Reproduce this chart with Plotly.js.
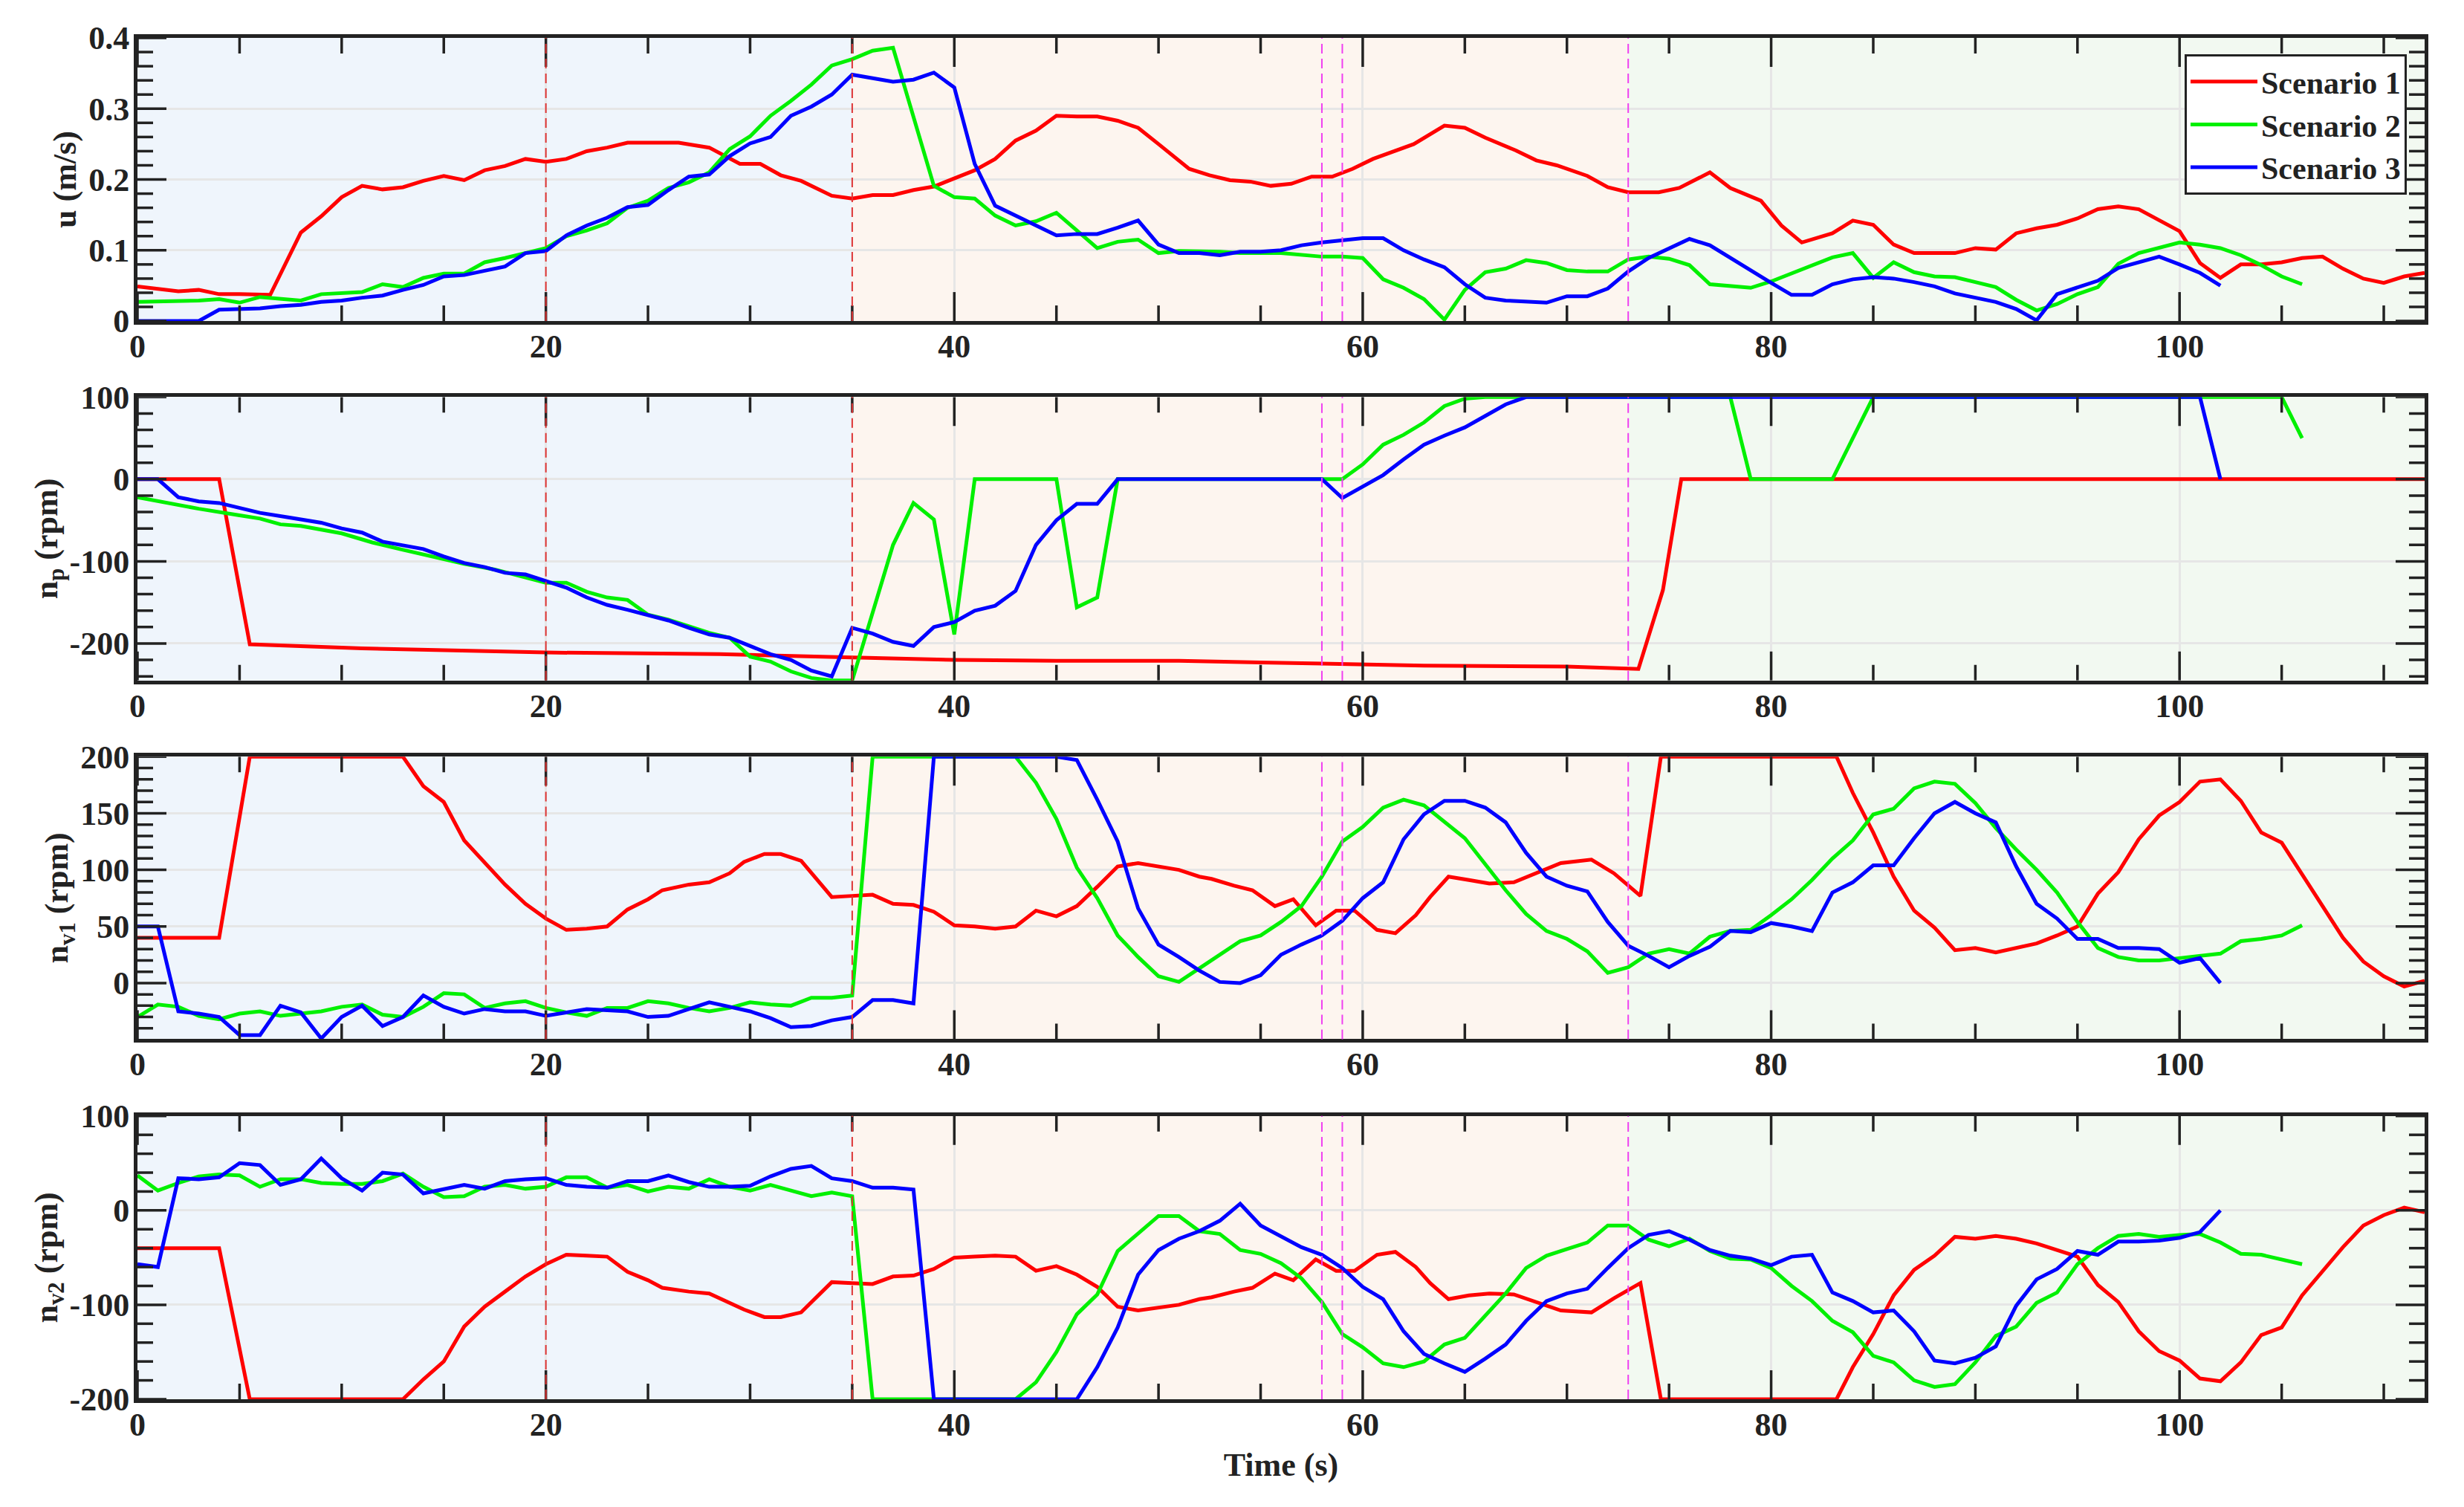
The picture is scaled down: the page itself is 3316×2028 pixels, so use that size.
<!DOCTYPE html>
<html>
<head>
<meta charset="utf-8">
<script src="https://cdn.plot.ly/plotly-3.0.1.min.js"></script>
<style>
  body { margin: 0; background: #fff; }
</style>
</head>
<body>
<div id="chart" style="width:3316px;height:2028px"></div>
<script>
const scenarios = ["Scenario 1", "Scenario 2", "Scenario 3"]

// phases: [start, end] in seconds
const phaseStarts = [0, 35, 73]
const phaseEnds = [35, 73, 112]
const redEvents = [20, 35]
const magentaEvents = [58, 59, 73]

const timeRange = [0, 112]
const timeTicks = [0, 20, 40, 60, 80, 100]
const timeMinorStep = 5

// surge speed u (m/s), [time, value]
const u_s1 = [[0,.049],[2,.042],[3,.044],[4,.038],[5,.038],[6.5,.037],[8,.125],[9,.148],[10,.175],[11,.191],[12,.186],[13,.189],[14,.198],[15,.205],[16,.199],[17,.213],[18,.219],[19,.229],[20,.225],[21,.229],[22,.240],[23,.245],[24,.252],[25,.252],[26.5,.252],[28,.245],[29.5,.222],[30.5,.222],[31.5,.206],[32.5,.198],[33.3,.187],[34,.177],[35,.173],[36,.178],[37,.178],[38,.185],[39,.190],[40,.202],[41,.213],[42,.229],[43,.255],[44,.269],[45,.290],[46,.289],[47,.289],[48,.283],[49,.273],[50,.250],[51.5,.215],[52.5,.206],[53.5,.199],[54.5,.197],[55.5,.191],[56.5,.194],[57.5,.204],[58.5,.204],[59.5,.215],[60.5,.229],[61.5,.239],[62.5,.250],[64,.276],[65,.273],[66,.259],[67.5,.241],[68.5,.227],[69.5,.220],[71,.205],[72,.189],[73,.182],[74.5,.182],[75.5,.188],[77,.210],[78,.188],[79.5,.170],[80.5,.135],[81.5,.111],[83,.124],[84,.142],[85,.136],[86,.108],[87,.096],[89,.096],[90,.103],[91,.101],[92,.124],[93,.131],[94,.136],[95,.145],[96,.158],[97,.162],[98,.158],[99,.142],[100,.127],[101,.082],[102,.061],[103,.080],[104,.080],[105,.083],[106,.089],[107,.091],[108,.074],[109,.060],[110,.054],[111,.063],[112,.068]]
const u_s2 = [[0,.027],[2,.028],[3,.029],[4,.031],[5,.026],[6,.034],[7,.032],[8,.029],[9,.038],[10,.039],[11,.041],[12,.052],[13,.048],[14,.061],[15,.067],[16,.067],[17,.083],[18,.089],[19,.096],[20,.103],[21,.120],[22,.128],[23,.138],[24,.160],[25,.170],[26,.188],[27,.196],[28,.210],[29,.243],[30,.261],[31,.290],[32,.311],[33,.334],[34,.361],[35,.370],[36,.382],[37,.386],[39,.191],[40,.175],[41,.173],[42,.149],[43,.135],[44,.141],[45,.153],[46,.128],[47,.103],[48,.112],[49,.115],[50,.096],[51,.099],[53,.098],[54,.096],[56,.096],[57,.093],[58,.091],[59,.091],[60,.089],[61,.059],[62,.047],[63,.031],[64,.002],[65,.044],[66,.069],[67,.074],[68,.086],[69,.082],[70,.072],[71,.070],[72,.070],[73,.087],[74,.091],[75,.088],[76,.079],[77,.052],[78,.049],[79,.047],[80,.056],[81,.067],[82,.079],[83,.090],[84,.096],[85,.061],[86,.083],[87,.069],[88,.063],[89,.062],[90,.055],[91,.048],[92,.030],[93,.015],[94,.024],[95,.038],[96,.048],[97,.081],[98,.096],[99,.104],[100,.111],[101,.108],[102,.103],[103,.093],[104,.079],[105,.063],[106,.052]]
const u_s3 = [[0,0],[3,0],[4,.016],[5,.017],[6,.018],[7,.021],[8,.023],[9,.027],[10,.029],[11,.033],[12,.036],[13,.044],[14,.051],[15,.063],[16,.065],[17,.071],[18,.077],[19,.096],[20,.099],[21,.121],[22,.135],[23,.146],[24,.161],[25,.164],[26,.185],[27,.204],[28,.207],[29,.233],[30,.251],[31,.260],[32,.290],[33,.303],[34,.320],[35,.348],[36,.343],[37,.338],[38,.341],[39,.351],[40,.330],[41,.222],[42,.163],[43,.149],[44,.136],[45,.121],[46,.123],[47,.123],[48,.132],[49,.142],[50,.108],[51,.096],[52,.096],[53,.093],[54,.098],[55,.098],[56,.100],[57,.107],[58,.111],[59,.114],[60,.117],[61,.117],[62,.100],[63,.087],[64,.076],[65,.052],[66,.033],[67,.029],[68,.027],[69,.026],[70,.035],[71,.035],[72,.046],[73,.070],[74,.089],[75,.103],[76,.116],[77,.107],[78,.089],[79,.072],[80,.054],[81,.037],[82,.037],[83,.052],[84,.059],[85,.062],[86,.060],[87,.055],[88,.049],[89,.039],[90,.033],[91,.027],[92,.017],[93,.001],[94,.038],[95,.047],[96,.057],[97,.075],[98,.083],[99,.091],[100,.080],[101,.068],[102,.050]]

// propeller speed n_p (rpm)
const np_s1 = [[0,0],[4,0],[5.5,-201],[11,-206],[20,-211],[28.5,-213],[35,-217],[40,-220],[45,-221],[51,-221],[55,-223],[60,-225],[63,-227],[70,-228],[73.5,-231],[74.7,-135],[75.6,0],[112,0]]
const np_s2 = [[0,-22],[2,-32],[3,-36],[5,-44],[6,-48],[7,-55],[8,-57],[10,-66],[11.5,-77],[13,-86],[14.5,-95],[16,-103],[17.5,-110],[19,-119],[20,-126],[21,-126],[22,-137],[23,-144],[24,-147],[25,-165],[26,-171],[28,-187],[29,-193],[30,-216],[31,-222],[32,-234],[33,-242],[34,-245],[35,-245],[37,-80],[38,-29],[39,-49],[40,-189],[41,0],[45,0],[46,-156],[47,-144],[48,0],[59,0],[60,18],[61,42],[62,54],[63,69],[64,89],[65,98],[66,100],[78,100],[79,0],[83,0],[85,100],[105,100],[106,50]]
const np_s3 = [[0,0],[1,0],[2,-22],[3,-27],[4,-29],[5,-35],[6,-41],[7.5,-47],[9,-53],[10,-60],[11,-65],[12,-76],[14,-85],[15,-94],[16,-102],[17,-107],[18,-114],[19,-116],[20,-124],[21,-132],[22,-144],[23,-153],[24,-159],[25,-166],[26,-172],[27,-181],[28,-189],[29,-193],[30,-203],[31,-213],[32,-220],[33,-233],[34,-240],[35,-181],[36,-188],[37,-198],[38,-203],[39,-180],[40,-174],[41,-160],[42,-154],[43,-136],[44,-80],[45,-50],[46,-30],[47,-30],[48,0],[58,0],[59,-23],[61,5],[62,24],[63,42],[64,53],[65,63],[66,77],[67,91],[68,100],[101,100],[102,0]]

// thruster speed n_v1 (rpm)
const nv1_s1 = [[0,40],[4,40],[5.5,200],[13,200],[14,174],[15,160],[16,126],[17,107],[18,87],[19,70],[20,57],[21,47],[22,48],[23,50],[24,65],[25,74],[25.7,82],[27,87],[28,89],[29,97],[29.7,107],[30.7,114],[31.5,114],[32.5,108],[34,76],[35,77],[36,78],[37,70],[38,69],[39,63],[40,51],[41,50],[42,48],[43,50],[44,64],[45,59],[46,68],[47,85],[48,103],[49,106],[50,103],[51,100],[52,94],[52.6,92],[53.7,86],[54.6,82],[55.7,68],[56.6,74],[57.7,51],[58.7,64],[59.6,64],[60.7,47],[61.6,44],[62.6,60],[63.3,76],[64.2,94],[65.2,91],[66.2,88],[67.4,89],[68.6,98],[69.7,106],[71.2,109],[72.3,97],[73.6,77],[74.6,200],[83.2,200],[84,168],[85,133],[86,94],[87,64],[88,49],[89,29],[90,31],[91,27],[92,31],[93,35],[94,42],[95,50],[96,79],[97,98],[98,127],[99,148],[100,160],[101,178],[102,180],[103,161],[104,133],[105,124],[106,96],[107,68],[108,40],[109,19],[110,6],[111,-3],[112,2]]
const nv1_s2 = [[0,-30],[1,-19],[2,-21],[3,-29],[4,-32],[5,-27],[6,-25],[7,-29],[8,-27],[9,-25],[10,-21],[11,-19],[12,-28],[13,-30],[14,-21],[15,-9],[16,-10],[17,-22],[18,-18],[19,-16],[20,-22],[21,-26],[22,-29],[23,-22],[24,-22],[25,-16],[26,-18],[27,-22],[28,-25],[29,-22],[30,-17],[31,-19],[32,-20],[33,-13],[34,-13],[35,-11],[36,200],[43,200],[44,177],[45,145],[46,102],[47,75],[48,42],[49,23],[50,6],[51,1],[52,13],[53,25],[54,37],[55,42],[56,54],[57,68],[58,94],[59,125],[60,138],[61,155],[62,162],[63,157],[64,143],[65,128],[66,105],[67,82],[68,61],[69,46],[70,39],[71,28],[72,9],[73,14],[74,26],[75,30],[76,26],[77,41],[78,46],[79,47],[80,60],[81,74],[82,91],[83,110],[84,126],[85,149],[86,154],[87,172],[88,178],[89,176],[90,159],[91,137],[92,118],[93,100],[94,80],[95,54],[96,31],[97,23],[98,20],[99,20],[100,22],[101,24],[102,26],[103,37],[104,39],[105,42],[106,51]]
const nv1_s3 = [[0,50],[1,50],[2,-25],[3,-27],[4,-30],[5,-46],[6,-46],[7,-20],[8,-26],[9,-49],[10,-30],[11,-20],[12,-38],[13,-30],[14,-11],[15,-21],[16,-27],[17,-23],[18,-25],[19,-25],[20,-29],[21,-26],[22,-23],[23,-24],[24,-25],[25,-30],[26,-29],[27,-23],[28,-17],[29,-21],[30,-25],[31,-31],[32,-39],[33,-38],[34,-33],[35,-30],[36,-15],[37,-15],[38,-18],[39,200],[45,200],[46,197],[47,162],[48,125],[49,66],[50,34],[51,23],[52,11],[53,1],[54,0],[55,7],[56,25],[57,34],[58,42],[59,55],[60,75],[61,89],[62,127],[63,149],[64,161],[65,161],[66,155],[67,142],[68,115],[69,94],[70,86],[71,81],[72,54],[73,33],[74,24],[75,14],[76,24],[77,32],[78,46],[79,45],[80,53],[81,50],[82,46],[83,80],[84,89],[85,104],[86,104],[87,128],[88,150],[89,160],[90,150],[91,142],[92,103],[93,70],[94,57],[95,39],[96,39],[97,31],[98,31],[99,30],[100,18],[101,22],[102,0]]

// thruster speed n_v2 (rpm)
const nv2_s1 = [[0,-40],[4,-40],[5.5,-200],[13,-200],[14,-179],[15,-160],[16,-123],[17,-102],[18,-86],[19,-70],[20,-57],[21,-47],[22,-48],[23,-49],[24,-65],[25,-74],[25.7,-82],[27,-86],[28,-88],[29,-98],[29.7,-105],[30.7,-113],[31.5,-113],[32.5,-108],[34,-76],[35,-77],[36,-78],[37,-70],[38,-69],[39,-62],[40,-50],[41,-49],[42,-48],[43,-49],[44,-64],[45,-59],[46,-68],[47,-81],[48,-102],[49,-106],[50,-103],[51,-100],[52,-94],[52.6,-92],[53.7,-86],[54.6,-82],[55.7,-67],[56.6,-74],[57.7,-52],[58.7,-64],[59.6,-64],[60.7,-47],[61.6,-44],[62.6,-60],[63.3,-77],[64.2,-94],[65.2,-90],[66.2,-88],[67.4,-89],[68.6,-98],[69.7,-106],[71.2,-108],[72.3,-93],[73.6,-77],[74.6,-200],[83.2,-200],[84,-166],[85,-131],[86,-90],[87,-63],[88,-48],[89,-28],[90,-30],[91,-27],[92,-30],[93,-35],[94,-42],[95,-49],[96,-79],[97,-97],[98,-128],[99,-149],[100,-159],[101,-178],[102,-181],[103,-161],[104,-132],[105,-124],[106,-90],[107,-65],[108,-39],[109,-16],[110,-5],[111,3],[112,-2]]
const nv2_s2 = [[0,37],[1,21],[2,29],[3,36],[4,38],[5,37],[6,25],[7,33],[8,33],[9,29],[10,28],[11,28],[12,31],[13,39],[14,25],[15,14],[16,15],[17,25],[18,27],[19,23],[20,25],[21,35],[22,35],[23,24],[24,27],[25,20],[26,25],[27,23],[28,33],[29,25],[30,21],[31,27],[32,21],[33,15],[34,19],[35,15],[36,-200],[43,-200],[44,-182],[45,-150],[46,-110],[47,-89],[48,-43],[49,-24],[50,-6],[51,-6],[52,-22],[53,-25],[54,-42],[55,-46],[56,-56],[57,-72],[58,-97],[59,-131],[60,-145],[61,-162],[62,-166],[63,-160],[64,-142],[65,-135],[66,-112],[67,-88],[68,-61],[69,-48],[70,-41],[71,-34],[72,-16],[73,-16],[74,-31],[75,-38],[76,-30],[77,-43],[78,-51],[79,-52],[80,-61],[81,-80],[82,-96],[83,-117],[84,-129],[85,-154],[86,-161],[87,-180],[88,-187],[89,-184],[90,-161],[91,-133],[92,-123],[93,-98],[94,-87],[95,-57],[96,-40],[97,-27],[98,-25],[99,-28],[100,-26],[101,-25],[102,-34],[103,-46],[104,-47],[105,-52],[106,-57]]
const nv2_s3 = [[0,-57],[1,-60],[2,34],[3,33],[4,35],[5,50],[6,48],[7,27],[8,33],[9,55],[10,34],[11,21],[12,40],[13,38],[14,18],[15,23],[16,27],[17,23],[18,31],[19,33],[20,34],[21,27],[22,25],[23,24],[24,31],[25,31],[26,37],[27,30],[28,25],[29,25],[30,26],[31,36],[32,44],[33,47],[34,34],[35,31],[36,24],[37,24],[38,22],[39,-200],[46,-200],[47,-166],[48,-124],[49,-68],[50,-42],[51,-30],[52,-22],[53,-11],[54,7],[55,-16],[56,-28],[57,-39],[58,-47],[59,-61],[60,-81],[61,-94],[62,-128],[63,-152],[64,-162],[65,-171],[66,-157],[67,-142],[68,-117],[69,-96],[70,-88],[71,-83],[72,-61],[73,-40],[74,-26],[75,-22],[76,-31],[77,-42],[78,-48],[79,-51],[80,-58],[81,-49],[82,-47],[83,-87],[84,-96],[85,-108],[86,-106],[87,-128],[88,-159],[89,-162],[90,-156],[91,-144],[92,-101],[93,-73],[94,-62],[95,-43],[96,-47],[97,-33],[98,-33],[99,-32],[100,-29],[101,-23],[102,0]]

const u_ticks = [0, 0.1, 0.2, 0.3, 0.4]
const u_ticklabels = ["0", "0.1", "0.2", "0.3", "0.4"]
const np_ticks = [-200, -100, 0, 100]
const np_ticklabels = ["-200", "-100", "0", "100"]
const nv1_ticks = [0, 50, 100, 150, 200]
const nv1_ticklabels = ["0", "50", "100", "150", "200"]
const nv2_ticks = [-200, -100, 0, 100]
const nv2_ticklabels = ["-200", "-100", "0", "100"]

const lineColors = ["#ff0000", "#00f000", "#0000ff"]
const phaseColors = ["#eff5fc", "#fdf5ef", "#f2f9f1"]
const ink = "#222222"
const font = { family: "Liberation Serif, Times New Roman, serif", size: 44, color: ink, weight: "bold" }

const W = 3316, H = 2028
const margin = { l: 184.5, r: 53, t: 51, b: 145 }
const majorLen = 39
const minorLen = 21

let panels = [
    { title: "u (m/s)", series: [u_s1, u_s2, u_s3], range: [0, 0.4], ticks: u_ticks, labels: u_ticklabels, step: 0.1, minor: 0.02, domain: [0.792, 1.0] },
    { title: "n<sub>p</sub> (rpm)", series: [np_s1, np_s2, np_s3], range: [-245, 100], ticks: np_ticks, labels: np_ticklabels, step: 100, minor: 20, domain: [0.528, 0.7362] },
    { title: "n<sub>v1</sub> (rpm)", series: [nv1_s1, nv1_s2, nv1_s3], range: [-49.6, 200], ticks: nv1_ticks, labels: nv1_ticklabels, step: 50, minor: 10, domain: [0.2645, 0.472] },
    { title: "n<sub>v2</sub> (rpm)", series: [nv2_s1, nv2_s2, nv2_s3], range: [-200, 100], ticks: nv2_ticks, labels: nv2_ticklabels, step: 100, minor: 20, domain: [0, 0.2081] }
]

let traces = []
let shapes = []
let layout = {
    width: W,
    height: H,
    margin: margin,
    paper_bgcolor: "#ffffff",
    plot_bgcolor: "#ffffff",
    font: font,
    showlegend: true,
    legend: {
        x: 0.9922, xanchor: "right", y: 0.988, yanchor: "top",
        bgcolor: "#ffffff", bordercolor: ink, borderwidth: 3,
        font: { family: font.family, size: 42, color: ink, weight: "bold" },
        itemwidth: 90,
        tracegroupgap: 0
    }
}

function axisStyle() {
    return {
        showline: true, linecolor: ink, linewidth: 5, mirror: true,
        ticks: "",
        showgrid: true, gridcolor: "#e6e6e6", gridwidth: 3,
        zeroline: false
    }
}

// positions of all ticks (major + minor) inside a range
function tickPositions(range, minorStep, majorStep) {
    let out = []
    let k0 = Math.ceil(range[0] / minorStep - 1e-9)
    let k1 = Math.floor(range[1] / minorStep + 1e-9)
    for (let k = k0; k <= k1; k++) {
        let v = k * minorStep
        let r = v / majorStep
        out.push({ v: v, major: Math.abs(r - Math.round(r)) < 1e-6 })
    }
    return out
}

// inward tick marks on all four sides, as one segment trace per panel
function tickTrace(xName, yName, panel) {
    let plotW = W - margin.l - margin.r
    let plotH = (H - margin.t - margin.b) * (panel.domain[1] - panel.domain[0])
    let xPerPx = (timeRange[1] - timeRange[0]) / plotW
    let yPerPx = (panel.range[1] - panel.range[0]) / plotH
    let xs = [], ys = []
    for (let t of tickPositions(timeRange, timeMinorStep, 20)) {
        let len = (t.major ? majorLen : minorLen) * yPerPx
        xs.push(t.v, t.v, null, t.v, t.v, null)
        ys.push(panel.range[0], panel.range[0] + len, null, panel.range[1], panel.range[1] - len, null)
    }
    for (let t of tickPositions(panel.range, panel.minor, panel.step)) {
        let len = (t.major ? majorLen : minorLen) * xPerPx
        xs.push(timeRange[0], timeRange[0] + len, null, timeRange[1], timeRange[1] - len, null)
        ys.push(t.v, t.v, null, t.v, t.v, null)
    }
    return {
        x: xs, y: ys, xaxis: xName, yaxis: yName,
        type: "scatter", mode: "lines", showlegend: false, hoverinfo: "skip",
        connectgaps: false,
        line: { color: ink, width: 3.5, simplify: false }
    }
}

panels.forEach(function (panel, i) {
    let n = i === 0 ? "" : String(i + 1)
    let xName = "x" + n
    let yName = "y" + n

    panel.series.forEach(function (pts, k) {
        traces.push({
            x: pts.map(p => p[0]),
            y: pts.map(p => p[1]),
            xaxis: xName,
            yaxis: yName,
            type: "scatter",
            mode: "lines",
            name: scenarios[k],
            legendgroup: scenarios[k],
            showlegend: i === 0,
            line: { color: lineColors[k], width: 5 }
        })
    })
    traces.push(tickTrace(xName, yName, panel))

    let xa = axisStyle()
    xa.anchor = yName
    xa.range = timeRange
    xa.tickmode = "array"
    xa.tickvals = timeTicks
    xa.ticktext = timeTicks.map(String)
    xa.ticklabelstandoff = -9
    if (i === 3) {
        xa.title = { text: "Time (s)", standoff: 16, font: font }
    }
    layout["xaxis" + n] = xa

    let ya = axisStyle()
    ya.anchor = xName
    ya.domain = panel.domain
    ya.range = panel.range
    ya.tickmode = "array"
    ya.tickvals = panel.ticks
    ya.ticktext = panel.labels
    ya.ticklabelstandoff = -3
    ya.title = { text: panel.title, standoff: 4, font: font }
    layout["yaxis" + n] = ya

    // shaded phases
    for (let p = 0; p < phaseStarts.length; p++) {
        shapes.push({
            type: "rect", layer: "below", xref: xName, yref: "paper",
            x0: phaseStarts[p], x1: phaseEnds[p], y0: panel.domain[0], y1: panel.domain[1],
            fillcolor: phaseColors[p], line: { width: 0 }
        })
    }
    // event markers
    for (let t of redEvents) {
        shapes.push({
            type: "line", layer: "above", xref: xName, yref: "paper",
            x0: t, x1: t, y0: panel.domain[0], y1: panel.domain[1],
            line: { color: "#dd3535", width: 2, dash: "13px,7px" }
        })
    }
    for (let t of magentaEvents) {
        shapes.push({
            type: "line", layer: "above", xref: xName, yref: "paper",
            x0: t, x1: t, y0: panel.domain[0], y1: panel.domain[1],
            line: { color: "#f040f0", width: 2, dash: "13px,7px" }
        })
    }
})

layout.shapes = shapes

Plotly.newPlot("chart", traces, layout, { staticPlot: true })
</script>
</body>
</html>
